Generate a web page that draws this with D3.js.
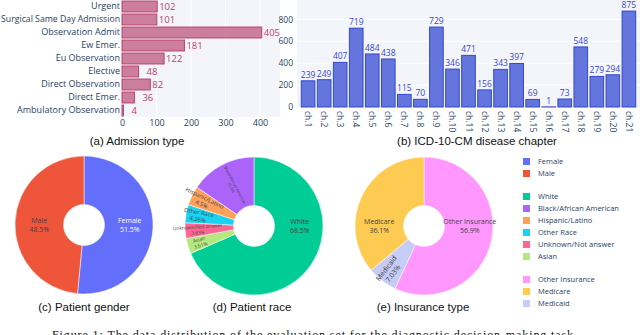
<!DOCTYPE html>
<html>
<head>
<meta charset="utf-8">
<script src="https://cdn.jsdelivr.net/npm/d3@7"></script>
<style>
  body { margin: 0; background: #fff; }
  svg { display: block; }
</style>
</head>
<body>
<svg id="chart" width="640" height="335"></svg>
<script>
// ---- data ----
const admissionTypes = ["Urgent", "Surgical Same Day Admission", "Observation Admit", "Ew Emer.",
    "Eu Observation", "Elective", "Direct Observation", "Direct Emer.", "Ambulatory Observation"];
const admissionCounts = [102, 101, 405, 181, 122, 48, 82, 36, 4];
const admissionTicks = [0, 100, 200, 300, 400];

const chapters = d3.range(1, 22).map(i => "ch." + i);
const chapterCounts = [239, 249, 407, 719, 484, 438, 115, 70, 729, 346, 471, 156, 343, 397, 69, 1, 73, 548, 279, 294, 875];
const chapterTicks = [0, 200, 400, 600, 800];

const genderLabels = ["Female", "Male"];
const genderShares = [51.5, 48.5];
const raceLabels = ["White", "Black/African American", "Hispanic/Latino", "Other Race", "Unknown/Not answer", "Asian"];
const raceShares = [68.5, 15.5, 4.5, 4.26, 3.63, 3.61];
const insuranceLabels = ["Other Insurance", "Medicare", "Medicaid"];
const insuranceShares = [56.9, 36.1, 7.03];

const titles = ["(a) Admission type", "(b) ICD-10-CM disease chapter", "(c) Patient gender", "(d) Patient race", "(e) Insurance type"];
const caption = "Figure 1: The data distribution of the evaluation set for the diagnostic decision-making task.";

// ---- styling ----
const ink = '#2a3f5f';
const plotBg = '#f4f5fb';
const tickFont = 'Open Sans, DejaVu Sans, sans-serif';
const titleFont = 'Liberation Sans, Arial, sans-serif';

const genderColors = ['#636efa', '#ef553b'];
const raceColors = ['#00cc96', '#ab63fa', '#ffa15a', '#19d3f3', '#ff6692', '#b6e880'];
const insuranceColors = ['#ff97ff', '#fecb52', '#c6ccf8'];

const svg = d3.select('#chart');

// ---- (a) admission type, horizontal bars ----
const ax = d3.scaleLinear().domain([0, 458]).range([122, 280]);
const ay = d3.scaleBand().domain(admissionTypes).range([0, 117]).paddingInner(0.16).paddingOuter(0.08);

const ga = svg.append('g');
ga.append('rect').attr('x', 122).attr('y', 0).attr('width', 158).attr('height', 117).attr('fill', plotBg);
ga.append('g').selectAll('line').data(admissionTicks.slice(1)).join('line')
    .attr('x1', d => ax(d)).attr('x2', d => ax(d)).attr('y1', 0).attr('y2', 117)
    .attr('stroke', '#fff').attr('stroke-width', 1);

ga.append('g').selectAll('rect').data(admissionTypes).join('rect')
    .attr('x', ax(0)).attr('y', d => ay(d))
    .attr('width', (d, i) => ax(admissionCounts[i]) - ax(0))
    .attr('height', ay.bandwidth())
    .attr('fill', '#cc7f9c').attr('stroke', '#b9416c').attr('stroke-width', 1);

ga.append('g').selectAll('text').data(admissionTypes).join('text')
    .attr('x', (d, i) => ax(admissionCounts[i]) + (admissionCounts[i] < 60 ? 8 : 2))
    .attr('y', d => ay(d) + ay.bandwidth() / 2)
    .attr('dy', '0.35em')
    .attr('font-family', tickFont).attr('font-size', 9.5)
    .attr('fill', '#b9416c')
    .text((d, i) => admissionCounts[i]);

const aLeft = ga.append('g').attr('transform', 'translate(122,0)')
    .call(d3.axisLeft(ay).tickSize(0).tickPadding(2));
const aBottom = ga.append('g').attr('transform', 'translate(0,117)')
    .call(d3.axisBottom(ax).tickValues(admissionTicks).tickSize(0).tickPadding(3));
[aLeft, aBottom].forEach(g => {
    g.select('.domain').remove();
    g.selectAll('text').attr('font-family', tickFont).attr('font-size', 9).attr('fill', ink);
});
// keep the longest category inside the left edge
aLeft.selectAll('text').each(function () {
    const w = this.getComputedTextLength();
    if (w > 119) d3.select(this).attr('textLength', 119).attr('lengthAdjust', 'spacingAndGlyphs');
});

// ---- (b) disease chapters, vertical bars ----
const bx = d3.scaleBand().domain(chapters).range([300, 637]).paddingInner(0.15).paddingOuter(0.08);
const by = d3.scaleLinear().domain([0, 976]).range([107, 0]);

const gb = svg.append('g');
gb.append('rect').attr('x', 297).attr('y', 0).attr('width', 343).attr('height', 107).attr('fill', plotBg);
gb.append('g').selectAll('line').data(chapterTicks.slice(1)).join('line')
    .attr('x1', 297).attr('x2', 640).attr('y1', d => by(d)).attr('y2', d => by(d))
    .attr('stroke', '#fff').attr('stroke-width', 1);

gb.append('g').selectAll('rect').data(chapters).join('rect')
    .attr('x', d => bx(d)).attr('width', bx.bandwidth())
    .attr('y', (d, i) => by(chapterCounts[i]))
    .attr('height', (d, i) => by(0) - by(chapterCounts[i]))
    .attr('fill', '#6476de').attr('stroke', '#3447cd').attr('stroke-width', 1);

gb.append('g').selectAll('text').data(chapters).join('text')
    .attr('x', d => bx(d) + bx.bandwidth() / 2)
    .attr('y', (d, i) => by(chapterCounts[i]) - 3)
    .attr('text-anchor', 'middle')
    .attr('font-family', tickFont).attr('font-size', 8.5)
    .attr('fill', '#3447cd')
    .text((d, i) => chapterCounts[i]);

const bLeft = gb.append('g').attr('transform', 'translate(297,0)')
    .call(d3.axisLeft(by).tickValues(chapterTicks).tickSize(0).tickPadding(4));
const bBottom = gb.append('g').attr('transform', 'translate(0,107)')
    .call(d3.axisBottom(bx).tickSize(0));
[bLeft, bBottom].forEach(g => {
    g.select('.domain').remove();
    g.selectAll('text').attr('font-family', tickFont).attr('font-size', 8.5).attr('fill', ink);
});
bBottom.selectAll('text')
    .attr('x', 4).attr('y', 0).attr('dy', '0.35em')
    .attr('transform', 'rotate(90)')
    .attr('text-anchor', 'start');

// ---- (c)-(e) donuts ----
const rOuter = 69, rInner = 20.5;
const arc = d3.arc().innerRadius(rInner).outerRadius(rOuter);

function textColor(c) {
    const rgb = d3.rgb(c);
    return (rgb.r * 299 + rgb.g * 587 + rgb.b * 114) / 1000 < 128 ? '#fff' : '#444';
}

function drawDonut(cx, cy, labels, shares, colors) {
    const items = labels.map((l, i) => ({ label: l, value: shares[i], color: colors[i] }));
    // first slice runs clockwise from 12 o'clock, the rest follow counter-clockwise
    const ordered = [items[0]].concat(items.slice(1).reverse());
    const pie = d3.pie().sort(null).value(d => d.value);
    const arcs = pie(ordered);
    const total = d3.sum(shares);
    const g = svg.append('g').attr('transform', `translate(${cx},${cy})`);

    g.selectAll('path').data(arcs).join('path')
        .attr('d', arc)
        .attr('fill', d => d.data.color)
        .attr('stroke', '#fff').attr('stroke-width', 0.5);

    arcs.forEach(a => {
        const share = a.data.value / total;
        const a0 = a.startAngle, a1 = a.endAngle;
        let ang, r, rot = 0, size;
        const lines = [a.data.label, a.data.value + '%'];
        const big = share > 0.25;
        if (big && a0 <= Math.PI / 2 && a1 >= Math.PI / 2) {
            ang = Math.PI / 2; r = (rInner + rOuter) / 2 + 1;
        } else if (big && a0 <= 3 * Math.PI / 2 && a1 >= 3 * Math.PI / 2) {
            ang = 3 * Math.PI / 2; r = (rInner + rOuter) / 2;
        } else {
            ang = (a0 + a1) / 2;
            r = share < 0.1 ? rOuter * 0.82 : (rInner + rOuter) / 2;
            const deg = ang * 180 / Math.PI;
            rot = deg > 180 ? deg - 270 : deg - 90;
        }
        if (big) {
            size = 7;
        } else {
            const longest = d3.max(lines, s => s.length);
            const radialFit = (rOuter - rInner) / (0.56 * longest);
            const tangentFit = (r * (a1 - a0)) / 2.6;
            size = Math.min(7, radialFit, tangentFit);
        }
        const x = Math.sin(ang) * r, y = -Math.cos(ang) * r;
        const t = g.append('text')
            .attr('transform', `translate(${x},${y}) rotate(${rot})`)
            .attr('text-anchor', 'middle')
            .attr('font-family', 'Open Sans, DejaVu Sans, sans-serif')
            .attr('font-size', size)
            .attr('fill', textColor(a.data.color));
        lines.forEach((s, k) => {
            t.append('tspan').attr('x', 0).attr('y', (k - 0.5) * size * 1.2).attr('dy', '0.35em').text(s);
        });
    });
}

drawDonut(84, 225, genderLabels, genderShares, genderColors);
drawDonut(254, 226, raceLabels, raceShares, raceColors);
drawDonut(424, 226, insuranceLabels, insuranceShares, insuranceColors);

// ---- legend ----
const legendGroups = [
    genderLabels.map((l, i) => ({ label: l, color: genderColors[i] })),
    raceLabels.map((l, i) => ({ label: l, color: raceColors[i] })),
    insuranceLabels.map((l, i) => ({ label: l, color: insuranceColors[i] }))
];
let ly = 161.5;
const gl = svg.append('g');
legendGroups.forEach(group => {
    group.forEach(item => {
        gl.append('rect').attr('x', 523).attr('y', ly - 3.5).attr('width', 7).attr('height', 7).attr('fill', item.color);
        gl.append('text').attr('x', 538).attr('y', ly).attr('dy', '0.35em')
            .attr('font-family', tickFont).attr('font-size', 7.5).attr('fill', ink)
            .text(item.label);
        ly += 12;
    });
    ly += 11;
});

// ---- sub-captions ----
const titlePos = [[137, 145], [477, 145], [84, 311], [252, 311], [423, 311]];
svg.append('g').selectAll('text').data(titles).join('text')
    .attr('x', (d, i) => titlePos[i][0]).attr('y', (d, i) => titlePos[i][1])
    .attr('text-anchor', 'middle')
    .attr('font-family', titleFont).attr('font-size', 11.5)
    .attr('fill', '#111')
    .text(d => d);

// ---- figure caption (cut by the bottom edge) ----
svg.append('text')
    .attr('x', 52).attr('y', 339)
    .attr('font-family', 'Liberation Serif, Times New Roman, serif')
    .attr('font-size', 12)
    .attr('textLength', 525).attr('lengthAdjust', 'spacing')
    .attr('fill', '#111')
    .text(caption);
</script>
</body>
</html>
